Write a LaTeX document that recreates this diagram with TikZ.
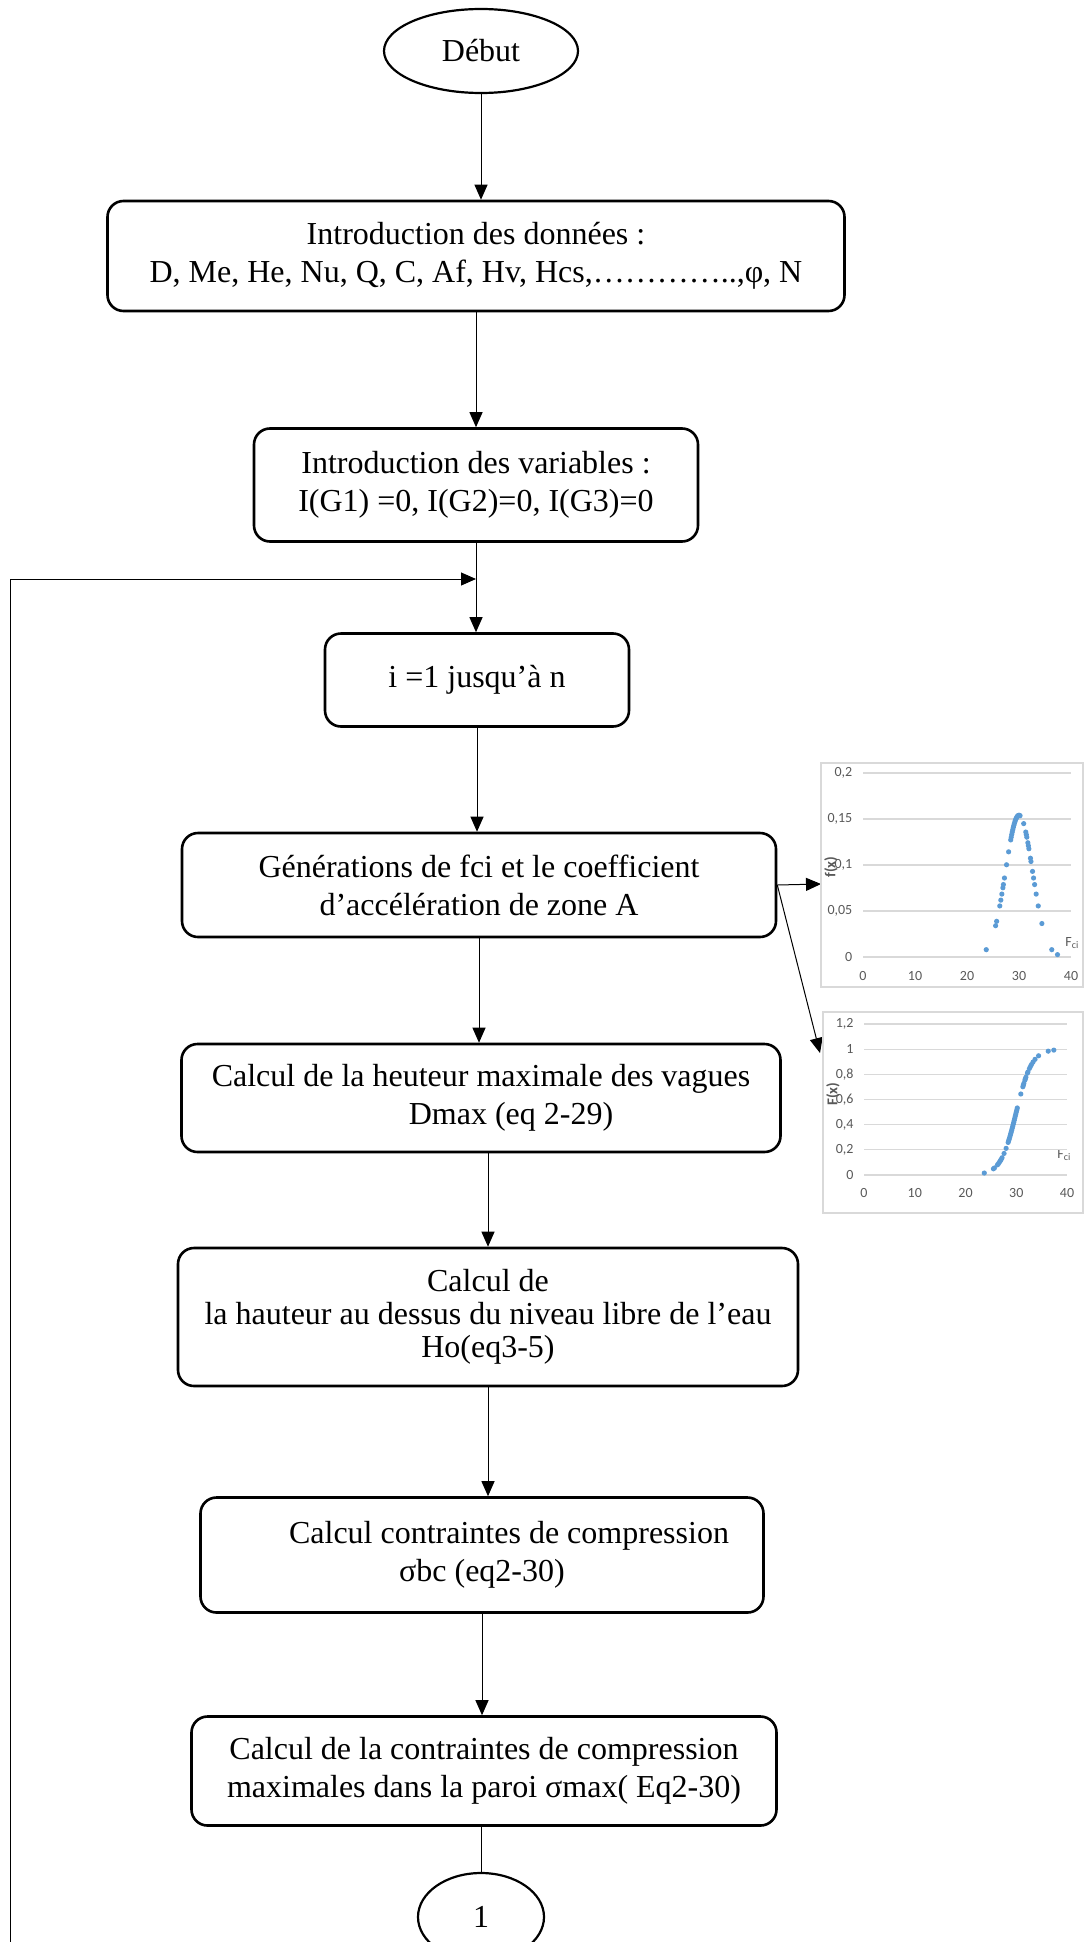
\documentclass[tikz,border=0pt]{standalone}
\usepackage{fontspec}
\setmainfont{Liberation Serif}
\newfontfamily\chartfont{Carlito}
\usetikzlibrary{shapes.geometric,arrows.meta}
\definecolor{pointblue}{RGB}{91,155,213}
\definecolor{labelgray}{RGB}{89,89,89}
\definecolor{framegray}{RGB}{217,217,217}

\begin{document}
\begin{tikzpicture}[x=0.5pt, y=-0.5pt,
  box/.style={rectangle, draw, line width=1.3pt, rounded corners=8pt,
              align=center, inner sep=0pt, font=\fontsize{16}{19}\selectfont},
  term/.style={ellipse, draw, line width=1.1pt, inner sep=0pt,
               font=\fontsize{16}{19}\selectfont},
  arrow/.style={-{Triangle[length=7.5pt,width=6.5pt]}, line width=0.5pt},
  link/.style={line width=0.5pt},
  chartframe/.style={draw=framegray, line width=0.6pt},
  gridline/.style={draw=framegray, line width=0.6pt},
  ticklabel/.style={font=\chartfont\fontsize{7}{8}\selectfont, text=labelgray, inner sep=1pt},
  axislabel/.style={font=\chartfont\bfseries\fontsize{7.5}{8}\selectfont, text=labelgray, inner sep=0pt},
  dotpoint/.style={fill=pointblue, draw=none}
]
  \useasboundingbox (0,0) rectangle (1083,1942);

  \node[term, minimum width=97pt, minimum height=42pt] (debut) at (481,51) {Début};

  \node[box, minimum width=368.5pt, minimum height=55pt] (donnees) at (476,256)
    {Introduction des données :\\D, Me, He, Nu, Q, C, Af, Hv, Hcs,…………..,φ, N};
  \node[box, minimum width=222pt, minimum height=56.5pt] (variables) at (476,485)
    {Introduction des variables :\\I(G1) =0, I(G2)=0, I(G3)=0};
  \node[box, minimum width=152pt, minimum height=46.5pt] (boucle) at (477,680)
    {i =1 jusqu’à n};
  \node[box, minimum width=297pt, minimum height=52pt] (generation) at (479,885)
    {Générations de fci et le coefficient\\d’accélération de zone A};
  \node[box, minimum width=299.5pt, minimum height=54pt] (vagues) at (481,1098)
    {Calcul de la heuteur maximale des vagues\\\hspace*{30pt}Dmax (eq 2-29)};
  \node[box, minimum width=310pt, minimum height=69pt,
        font=\fontsize{16}{16.5}\selectfont] (hauteur) at (488,1317)
    {Calcul de\\la hauteur au dessus du niveau libre de l’eau\\Ho(eq3-5)};
  \node[box, minimum width=281.5pt, minimum height=57.5pt] (contraintes) at (482,1555)
    {\hspace*{27pt}Calcul contraintes de compression\\σbc (eq2-30)};
  \node[box, minimum width=292.5pt, minimum height=54.5pt] (sigmamax) at (484,1771)
    {Calcul de la contraintes de compression\\maximales dans la paroi σmax( Eq2-30)};

  \node[term, minimum width=63pt, minimum height=44pt] (fin) at (481,1917) {1};

  \coordinate (retour) at (10,1942);
  \coordinate (jonction) at (476,579);
  \coordinate (pdfin) at (821,884);
  \coordinate (cdfin) at (820,1053);

  \draw[arrow] (debut) -- (debut |- donnees.north);
  \draw[arrow] (donnees) -- (donnees |- variables.north);
  \draw[arrow] (variables) -- (variables |- boucle.north);
  \draw[arrow] (retour) |- (jonction);
  \draw[arrow] (boucle) -- (boucle |- generation.north);
  \draw[arrow] (generation) -- (generation |- vagues.north);
  \draw[arrow] (hauteur |- vagues.south) -- (hauteur.north);
  \draw[arrow] (hauteur) -- (hauteur |- contraintes.north);
  \draw[arrow] (contraintes) -- (contraintes |- sigmamax.north);
  \draw[link] (fin |- sigmamax.south) -- (fin);
  \draw[arrow] (generation.east) -- (pdfin);
  \draw[arrow] (generation.east) -- (cdfin);

  \draw[chartframe] (821,763) rectangle (1083,987);
  \node[axislabel, rotate=90] (fxlabel) at (831,867) {f(x)};
  \node[ticklabel, anchor=west] (fcipdf) at (1063,943) {F\textsubscript{ci}};
  \begin{scope}[shift={(863,957)}, x=2.6pt, y=460pt]
    \foreach \g in {0.05,0.1,0.15,0.2}
      \draw[gridline] (0,\g) -- (40,\g);
    \draw[gridline] (0,0) -- (40,0);
    \foreach \g/\t [count=\k] in {0/0, 0.05/{0,05}, 0.1/{0,1}, 0.15/{0,15}, 0.2/{0,2}}
      \node[ticklabel, anchor=east] (pdfy\k) at (-1.6,\g) {\t};
    \foreach \v [count=\k] in {0,10,20,30,40}
      \node[ticklabel, yshift=-9.5pt] (pdfx\k) at (\v,0) {\v};
    \foreach \v in {23.7,25.5,25.7,26.3,26.5,26.7,26.9,27.0,27.2,27.6,28.0,28.4,28.5,28.6,
                    28.7,28.8,28.9,29.0,29.1,29.2,29.3,29.4,29.5,29.6,29.7,29.8,29.9,30.0,
                    30.1,30.2,30.9,31.3,31.4,31.5,31.7,31.8,31.9,32.2,32.3,32.6,32.8,33.0,
                    33.3,33.7,34.4,36.3,37.4}
      \fill[dotpoint] (\v,{0.154*exp(-0.5*((\v-30)/2.59)^2)}) circle (1.3pt);
  \end{scope}

  \draw[chartframe] (823,1012) rectangle (1083,1213);
  \node[axislabel, rotate=90] (Fxlabel) at (833,1094) {F(x)};
  \node[ticklabel, anchor=west] (fcicdf) at (1055,1155) {F\textsubscript{ci}};
  \begin{scope}[shift={(864,1175)}, x=2.5375pt, y=62.92pt]
    \foreach \g in {0.2,0.4,0.6,0.8,1,1.2}
      \draw[gridline] (0,\g) -- (40,\g);
    \draw[gridline] (0,0) -- (40,0);
    \foreach \g/\t [count=\k] in {0/0, 0.2/{0,2}, 0.4/{0,4}, 0.6/{0,6}, 0.8/{0,8}, 1/1, 1.2/{1,2}}
      \node[ticklabel, anchor=east] (cdfy\k) at (-1.6,\g) {\t};
    \foreach \v [count=\k] in {0,10,20,30,40}
      \node[ticklabel, yshift=-9pt] (cdfx\k) at (\v,0) {\v};
    \foreach \v in {23.7,25.5,25.7,26.3,26.5,26.7,26.9,27.0,27.2,27.6,28.0,28.4,28.5,28.6,
                    28.7,28.8,28.9,29.0,29.1,29.2,29.3,29.4,29.5,29.6,29.7,29.8,29.9,30.0,
                    30.1,30.2,30.9,31.3,31.4,31.5,31.7,31.8,31.9,32.2,32.3,32.6,32.8,33.0,
                    33.3,33.7,34.4,36.3,37.4}
      \fill[dotpoint] (\v,{1/(1+exp(-1.702*(\v-30)/2.59))}) circle (1.3pt);
  \end{scope}

\end{tikzpicture}
\end{document}
